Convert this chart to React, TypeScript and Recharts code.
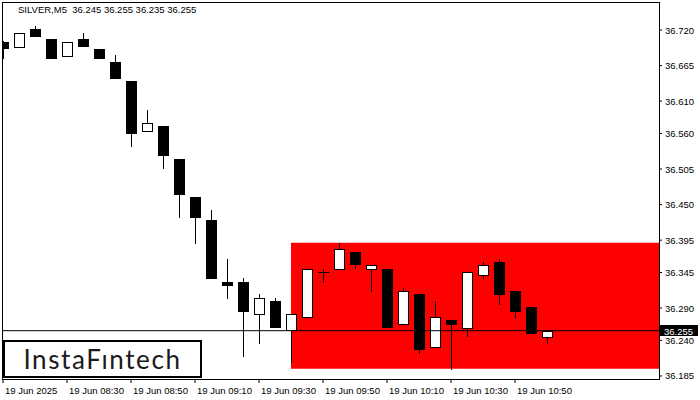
import React from 'react';
import { ComposedChart, Bar, XAxis, YAxis, ReferenceArea, ReferenceLine } from 'recharts';

// M5 candles, 19 Jun 2025 08:10 .. 11:00
const opens = [36.701, 36.694, 36.722, 36.706, 36.680, 36.706, 36.691, 36.671, 36.641, 36.564, 36.572, 36.521, 36.462, 36.426, 36.330, 36.330, 36.281, 36.301, 36.256, 36.276, 36.346, 36.350, 36.377, 36.350, 36.350, 36.265, 36.312, 36.230, 36.272, 36.259, 36.341, 36.361, 36.316, 36.292, 36.245];
const highs = [36.703, 36.715, 36.726, 36.706, 36.701, 36.715, 36.691, 36.681, 36.641, 36.596, 36.572, 36.521, 36.462, 36.442, 36.366, 36.337, 36.312, 36.306, 36.281, 36.350, 36.350, 36.391, 36.377, 36.357, 36.350, 36.321, 36.312, 36.301, 36.272, 36.346, 36.361, 36.366, 36.316, 36.292, 36.255];
const lows = [36.675, 36.694, 36.709, 36.675, 36.680, 36.694, 36.675, 36.644, 36.539, 36.564, 36.505, 36.429, 36.389, 36.335, 36.304, 36.214, 36.234, 36.259, 36.205, 36.276, 36.329, 36.350, 36.350, 36.315, 36.259, 36.265, 36.219, 36.230, 36.194, 36.245, 36.335, 36.295, 36.275, 36.250, 36.235];
const closes = [36.691, 36.715, 36.709, 36.675, 36.701, 36.694, 36.675, 36.644, 36.559, 36.576, 36.525, 36.465, 36.429, 36.335, 36.324, 36.284, 36.306, 36.259, 36.281, 36.350, 36.346, 36.381, 36.357, 36.357, 36.259, 36.316, 36.225, 36.276, 36.264, 36.346, 36.357, 36.310, 36.284, 36.250, 36.255];

const timeTicks = [0, 4, 8, 12, 16, 20, 24, 28, 32];
const timeLabels = ['19 Jun 2025', '19 Jun 08:30', '19 Jun 08:50', '19 Jun 09:10', '19 Jun 09:30', '19 Jun 09:50', '19 Jun 10:10', '19 Jun 10:30', '19 Jun 10:50'];
const priceTicks = [36.720, 36.665, 36.610, 36.560, 36.505, 36.450, 36.395, 36.345, 36.290, 36.240, 36.185];

const lastPrice = 36.255;
const zoneTop = 36.391;
const zoneBottom = 36.196;
const zoneStartIdx = 18;

const data = opens.map((o, i) => ({
  idx: i,
  open: o,
  high: highs[i],
  low: lows[i],
  close: closes[i],
}));

const FONT = "'Liberation Sans', Arial, sans-serif";

const Candle = (props: any) => {
  const { x, y, width, height, payload } = props;
  const top = Math.min(y, y + height);
  const bot = Math.max(y, y + height);
  const span = payload.high - payload.low;
  const toY = (p: number) => top + ((payload.high - p) / span) * (bot - top);
  const cx = Math.round(x + width / 2);
  const left = cx - 5;
  const yo = toY(payload.open);
  const yc = toY(payload.close);
  const bTop = Math.round(Math.min(yo, yc));
  const bBot = Math.round(Math.max(yo, yc));
  const bull = payload.close > payload.open;
  const doji = payload.close === payload.open;
  return (
    <g>
      <line x1={left + 5.5} x2={left + 5.5} y1={Math.round(top)} y2={Math.round(bot)} stroke="#000" strokeWidth={1} />
      {doji ? (
        <line x1={left} x2={left + 11} y1={bTop + 0.5} y2={bTop + 0.5} stroke="#000" strokeWidth={1} />
      ) : bull ? (
        <rect x={left + 0.5} y={bTop + 0.5} width={10} height={Math.max(bBot - bTop, 1)} fill="#fff" stroke="#000" strokeWidth={1} />
      ) : (
        <rect x={left} y={bTop} width={11} height={Math.max(bBot - bTop, 1)} fill="#000" />
      )}
    </g>
  );
};

const TimeTick = (props: any) => {
  const { x, y, payload } = props;
  const i = timeTicks.indexOf(payload.value);
  return (
    <text x={x + 2} y={y + 9} textAnchor="start" fontSize={9.5} fontFamily={FONT} fill="#000">
      {timeLabels[i]}
    </text>
  );
};

const PriceTick = (props: any) => {
  const { x, y, payload } = props;
  return (
    <text x={x} y={y + 3.5} textAnchor="start" fontSize={9.5} fontFamily={FONT} fill="#000">
      {payload.value.toFixed(3)}
    </text>
  );
};

const PriceLabel = (props: any) => {
  const vb = props.viewBox || {};
  const lx = vb.x + vb.width + 1;
  const ly = Math.round(vb.y);
  return (
    <g>
      <rect x={lx} y={ly - 6} width={38} height={11} fill="#000" />
      <text x={lx + 4} y={ly + 3.5} fontSize={9.5} fontFamily={FONT} fill="#fff">
        {lastPrice.toFixed(3)}
      </text>
    </g>
  );
};

export default function App() {
  return (
    <div style={{ position: 'absolute', left: 0, top: 0, width: 700, height: 400, background: '#fff' }}>
      <ComposedChart width={700} height={400} data={data} margin={{ top: 2, left: 2, right: 0, bottom: 0 }}>
        <XAxis
          dataKey="idx"
          type="number"
          domain={[-0.0625, 41]}
          ticks={timeTicks}
          interval={0}
          height={21}
          axisLine={false}
          tickLine={{ stroke: '#000' }}
          tickSize={4}
          tick={<TimeTick />}
          allowDataOverflow
        />
        <YAxis
          orientation="right"
          type="number"
          domain={[36.1803, 36.7633]}
          ticks={priceTicks}
          interval={0}
          width={41}
          axisLine={false}
          tickLine={{ stroke: '#000' }}
          tickSize={3}
          tickMargin={3}
          tick={<PriceTick />}
          allowDataOverflow
        />
        <ReferenceArea
          x1={zoneStartIdx}
          x2={41}
          y1={zoneBottom}
          y2={zoneTop}
          fill="#ff0000"
          fillOpacity={1}
          stroke="none"
        />
        <Bar
          dataKey={(d: any) => [d.low, d.high]}
          barSize={11}
          shape={<Candle />}
          isAnimationActive={false}
        />
        <ReferenceLine y={lastPrice} stroke="#000" strokeWidth={1} label={<PriceLabel />} />
      </ComposedChart>
      <div
        style={{
          position: 'absolute',
          left: 2,
          top: 2,
          width: 658,
          height: 378,
          boxSizing: 'border-box',
          border: '1px solid #000',
          pointerEvents: 'none',
        }}
      />
      <div style={{ position: 'absolute', left: 18, top: 4, fontSize: 9.5, fontFamily: FONT, color: '#000', whiteSpace: 'pre' }}>
        {'SILVER,M5  36.245 36.255 36.235 36.255'}
      </div>
      <div
        style={{
          position: 'absolute',
          left: 3,
          top: 340,
          width: 199,
          height: 38,
          boxSizing: 'border-box',
          border: '2px solid #000',
          background: '#fff',
          display: 'flex',
          alignItems: 'center',
          justifyContent: 'center',
          fontFamily: "Lato, 'Noto Sans', sans-serif",
          fontSize: 26,
          color: '#1a1a1a',
          letterSpacing: 1.6,
        }}
      >
        InstaFıntech
      </div>
    </div>
  );
}
